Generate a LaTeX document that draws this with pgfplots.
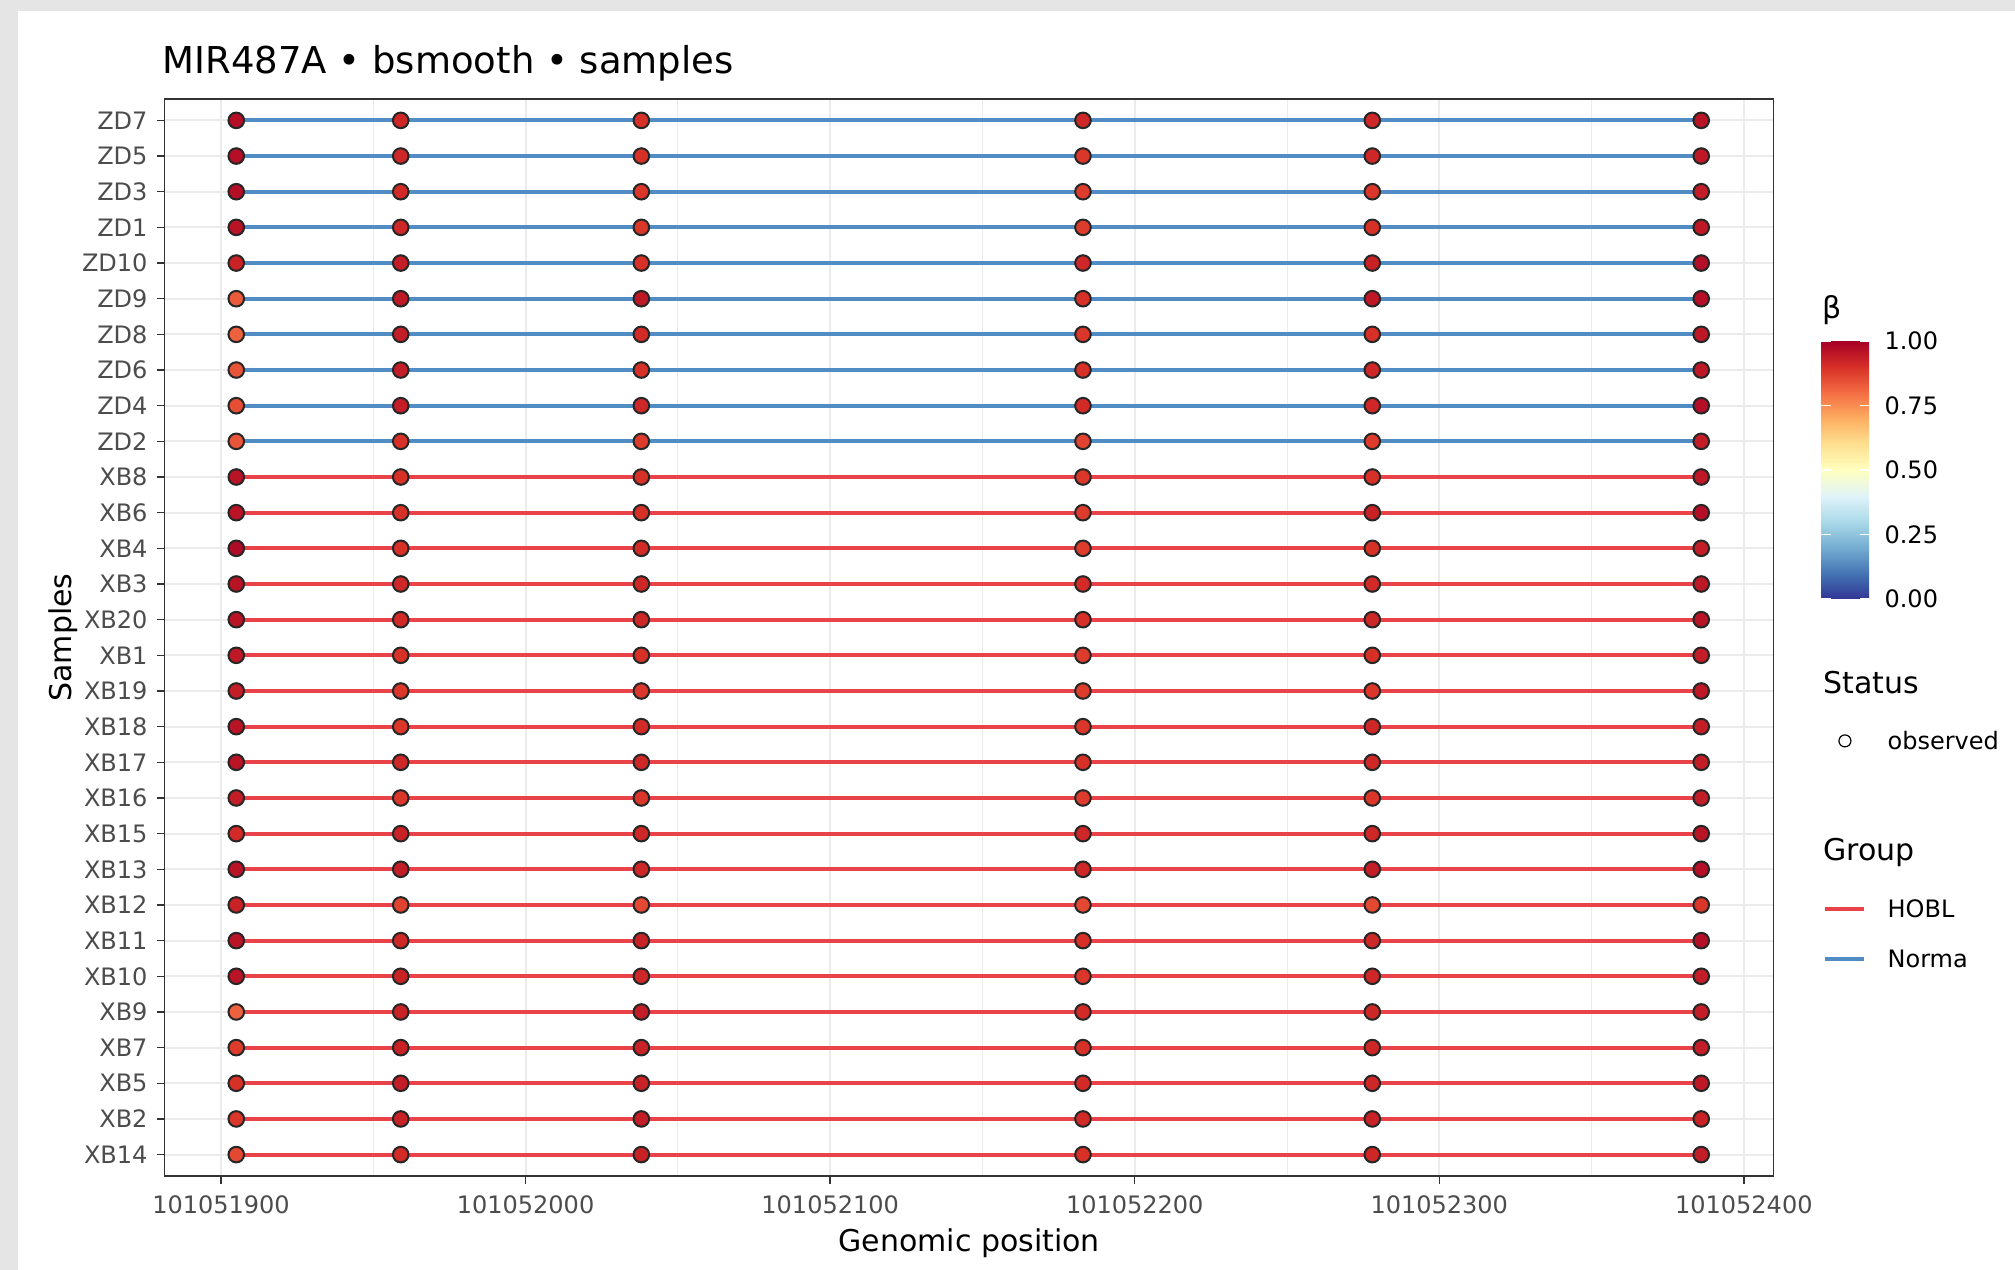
\documentclass[border=0pt]{standalone}
\usepackage{fontspec}
\setmainfont{DejaVu Sans}
\usepackage{pgfplots}
\pgfplotsset{compat=1.18}
\usepackage{pgfplotstable}
\definecolor{hobl}{RGB}{233,66,72}
\definecolor{norma}{RGB}{82,140,196}
\definecolor{bgframe}{RGB}{229,229,229}
% x = genomic position - 101051900 ; y = sample row (0 = XB14 ... 29 = ZD7) ; b = beta
\pgfplotstableread[row sep=\\]{
x y b\\
5 29 0.97\\ 59 29 0.92\\ 138 29 0.90\\ 283 29 0.92\\ 378 29 0.92\\ 486 29 0.96\\
5 28 0.97\\ 59 28 0.92\\ 138 28 0.90\\ 283 28 0.89\\ 378 28 0.92\\ 486 28 0.95\\
5 27 0.97\\ 59 27 0.91\\ 138 27 0.89\\ 283 27 0.88\\ 378 27 0.89\\ 486 27 0.94\\
5 26 0.96\\ 59 26 0.92\\ 138 26 0.89\\ 283 26 0.88\\ 378 26 0.90\\ 486 26 0.95\\
5 25 0.93\\ 59 25 0.94\\ 138 25 0.90\\ 283 25 0.92\\ 378 25 0.93\\ 486 25 0.97\\
5 24 0.83\\ 59 24 0.95\\ 138 24 0.95\\ 283 24 0.90\\ 378 24 0.95\\ 486 24 0.97\\
5 23 0.82\\ 59 23 0.94\\ 138 23 0.91\\ 283 23 0.89\\ 378 23 0.90\\ 486 23 0.95\\
5 22 0.84\\ 59 22 0.94\\ 138 22 0.90\\ 283 22 0.90\\ 378 22 0.92\\ 486 22 0.95\\
5 21 0.85\\ 59 21 0.94\\ 138 21 0.92\\ 283 21 0.91\\ 378 21 0.92\\ 486 21 0.97\\
5 20 0.84\\ 59 20 0.90\\ 138 20 0.88\\ 283 20 0.87\\ 378 20 0.88\\ 486 20 0.94\\
5 19 0.96\\ 59 19 0.90\\ 138 19 0.90\\ 283 19 0.89\\ 378 19 0.90\\ 486 19 0.95\\
5 18 0.96\\ 59 18 0.90\\ 138 18 0.90\\ 283 18 0.88\\ 378 18 0.93\\ 486 18 0.97\\
5 17 0.98\\ 59 17 0.90\\ 138 17 0.91\\ 283 17 0.88\\ 378 17 0.90\\ 486 17 0.94\\
5 16 0.96\\ 59 16 0.92\\ 138 16 0.92\\ 283 16 0.91\\ 378 16 0.91\\ 486 16 0.95\\
5 15 0.96\\ 59 15 0.91\\ 138 15 0.92\\ 283 15 0.90\\ 378 15 0.92\\ 486 15 0.96\\
5 14 0.95\\ 59 14 0.90\\ 138 14 0.90\\ 283 14 0.88\\ 378 14 0.90\\ 486 14 0.94\\
5 13 0.94\\ 59 13 0.89\\ 138 13 0.89\\ 283 13 0.88\\ 378 13 0.89\\ 486 13 0.95\\
5 12 0.96\\ 59 12 0.89\\ 138 12 0.91\\ 283 12 0.89\\ 378 12 0.92\\ 486 12 0.94\\
5 11 0.96\\ 59 11 0.92\\ 138 11 0.92\\ 283 11 0.90\\ 378 11 0.92\\ 486 11 0.94\\
5 10 0.94\\ 59 10 0.89\\ 138 10 0.89\\ 283 10 0.88\\ 378 10 0.89\\ 486 10 0.94\\
5 9 0.91\\ 59 9 0.93\\ 138 9 0.92\\ 283 9 0.92\\ 378 9 0.92\\ 486 9 0.96\\
5 8 0.96\\ 59 8 0.94\\ 138 8 0.92\\ 283 8 0.92\\ 378 8 0.94\\ 486 8 0.97\\
5 7 0.93\\ 59 7 0.87\\ 138 7 0.86\\ 283 7 0.86\\ 378 7 0.86\\ 486 7 0.89\\
5 6 0.96\\ 59 6 0.92\\ 138 6 0.93\\ 283 6 0.90\\ 378 6 0.92\\ 486 6 0.97\\
5 5 0.96\\ 59 5 0.93\\ 138 5 0.92\\ 283 5 0.89\\ 378 5 0.92\\ 486 5 0.94\\
5 4 0.82\\ 59 4 0.93\\ 138 4 0.94\\ 283 4 0.91\\ 378 4 0.92\\ 486 4 0.94\\
5 3 0.88\\ 59 3 0.93\\ 138 3 0.93\\ 283 3 0.90\\ 378 3 0.92\\ 486 3 0.94\\
5 2 0.90\\ 59 2 0.94\\ 138 2 0.93\\ 283 2 0.91\\ 378 2 0.92\\ 486 2 0.95\\
5 1 0.89\\ 59 1 0.93\\ 138 1 0.94\\ 283 1 0.91\\ 378 1 0.93\\ 486 1 0.93\\
5 0 0.86\\ 59 0 0.91\\ 138 0 0.93\\ 283 0 0.90\\ 378 0 0.92\\ 486 0 0.94\\
}\pts
\begin{document}
\begin{tikzpicture}
\fill[bgframe] (0,0) rectangle (1007.5pt,635pt);
\fill[white] (9pt,0) rectangle (1007.5pt,629.5pt);
\begin{axis}[
  at={(82.35pt,47pt)}, anchor=south west,
  scale only axis, width=804.5pt, height=538.5pt,
  xmin=-18.5, xmax=509.8, ymin=-0.6, ymax=29.6,
  xtick={0,100,200,300,400,500},
  xticklabels={101051900,101052000,101052100,101052200,101052300,101052400},
  minor xtick={50,150,250,350,450},
  ytick={0,...,29},
  yticklabels={XB14,XB2,XB5,XB7,XB9,XB10,XB11,XB12,XB13,XB15,XB16,XB17,XB18,XB19,XB1,XB20,XB3,XB4,XB6,XB8,ZD2,ZD4,ZD6,ZD8,ZD9,ZD10,ZD1,ZD3,ZD5,ZD7},
  grid=both,
  major grid style={black!8, line width=1pt},
  minor grid style={black!8, line width=0.5pt},
  tick align=outside, tick pos=left,
  major tick length=3.8pt, minor tick length=0pt,
  tick style={black!80, line width=0.7pt},
  axis line style={black!80, line width=0.7pt},
  ticklabel style={font=\fontsize{12}{14}\selectfont, text=black!70},
  xticklabel style={inner sep=0pt, yshift=-5.8pt},
  yticklabel style={inner sep=0pt, xshift=-4.6pt},
  title={MIR487A • bsmooth • samples},
  title style={at={(axis description cs:-0.0015,1.0122)}, anchor=base west, inner sep=0pt, font=\fontsize{18.5}{22}\selectfont},
  xlabel={Genomic position},
  xlabel style={at={(axis description cs:0.5,-0.0702)}, anchor=base, inner sep=0pt, font=\fontsize{15}{18}\selectfont},
  ylabel={Samples},
  ylabel style={at={(axis description cs:-0.0577,0.5)}, anchor=base, inner sep=0pt, font=\fontsize{15}{18}\selectfont},
  colormap={rdylbu}{rgb255=(49,54,149) rgb255=(69,117,180) rgb255=(116,173,209) rgb255=(171,217,233) rgb255=(224,243,248) rgb255=(255,255,191) rgb255=(254,224,144) rgb255=(253,174,97) rgb255=(244,109,67) rgb255=(215,48,39) rgb255=(165,0,38)},
  point meta min=0, point meta max=1,
  colorbar/width=24pt,
  colorbar,
  colorbar style={
    at={(parent axis.south east)}, anchor=south west, xshift=15.2pt, yshift=288.5pt,
    scale only axis, width=24pt, height=129pt,
    grid=none,
    ytick={0,0.25,0.5,0.75,1}, yticklabels={0.00,0.25,0.50,0.75,1.00},
    axis line style={draw=none},
    tick align=inside, ytick pos=both, yticklabel pos=right,
    major tick length=4.8pt,
    tick style={white, line width=0.8pt},
    yticklabel style={font=\fontsize{12}{14}\selectfont, text=black, inner sep=0pt, xshift=7.5pt, anchor=west},
    title={β},
    title style={at={(axis description cs:0,1)}, anchor=base west, inner sep=0pt, yshift=5.3pt, xshift=0.5pt, font=\fontsize{15}{18}\selectfont},
  },
  legend style={at={(axis description cs:1.0309,0.4739)}, anchor=north west, draw=none, fill=none,
    inner sep=0pt, outer sep=0pt, row sep=0pt, column sep=8.6pt,
    cells={anchor=base west, inner sep=0pt, text depth=0pt},
    font=\fontsize{12}{14}\selectfont},
]
\addplot[scatter, only marks, scatter src=explicit, mark=*, mark size=3.9pt,
  scatter/use mapped color={draw=black!85, fill=mapped color},
  mark options={line width=1pt}, forget plot] table[x=x, y=y, meta=b] {\pts};
\pgfplotsinvokeforeach{0,...,19}{
  \addplot[hobl, line width=2pt, forget plot] coordinates {(5,#1) (486,#1)};
}
\pgfplotsinvokeforeach{20,...,29}{
  \addplot[norma, line width=2pt, forget plot] coordinates {(5,#1) (486,#1)};
}
\addlegendimage{empty legend}
\addlegendentry{\hspace*{-32pt}\fontsize{15}{18}\selectfont Status\rule{0pt}{12pt}}
\addlegendimage{legend image code/.code={\path[draw=none] (0pt,4.5pt) -- (19.5pt,4.5pt); \draw[black, line width=0.6pt, fill=none] (9.75pt,4.5pt) circle (3pt);}}
\addlegendentry{observed\rule{0pt}{22.65pt}}
\addlegendimage{empty legend}
\addlegendentry{\hspace*{-32pt}\fontsize{15}{18}\selectfont Group\rule{0pt}{49.95pt}}
\addlegendimage{legend image code/.code={\draw[hobl, line width=2pt] (0pt,4.4pt) -- (19.5pt,4.4pt);}}
\addlegendentry{HOBL\rule{0pt}{23.1pt}}
\addlegendimage{legend image code/.code={\draw[norma, line width=2pt] (0pt,4.4pt) -- (19.5pt,4.4pt);}}
\addlegendentry{Norma\rule{0pt}{19.4pt}}
\end{axis}
\pgfresetboundingbox
\path[use as bounding box] (0,0) rectangle (1007.5pt,635pt);
\end{tikzpicture}
\end{document}
